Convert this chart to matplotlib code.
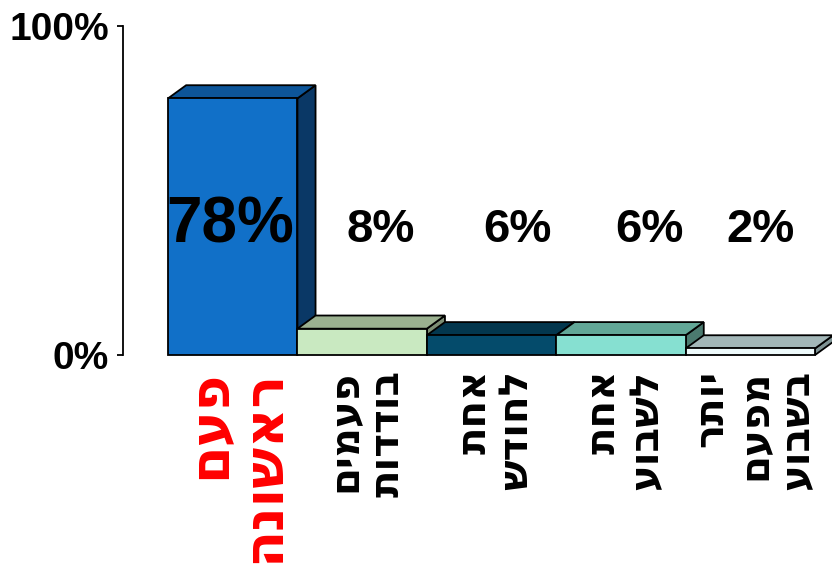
import numpy as np
import matplotlib
matplotlib.use("Agg")
import matplotlib.pyplot as plt
from matplotlib.patches import Polygon

plt.rcParams["font.family"] = ["Liberation Sans", "DejaVu Sans"]
plt.rcParams["font.weight"] = "bold"

# ---- data ----
CATEGORIES = ["פעם\nראשונה", "פעמים\nבודדות", "אחת\nלחודש", "אחת\nלשבוע",
              "יותר\nמפעם\nבשבוע"]
VALUES = [78, 8, 6, 6, 2]
VALUE_LABELS = ["78%", "8%", "6%", "6%", "2%"]
YTICKS = [0, 100]
YTICK_LABELS = ["0%", "100%"]

# ---- styles ----
FRONT = ["#1170c8", "#c9e9c1", "#044b6b", "#86e0d1", "#eefafb"]
TOP = ["#0d5599", "#9bb190", "#03374e", "#62a797", "#a3b7b8"]
SIDE = ["#0a3866", "#7c8e74", "#022c40", "#4b7a6f", "#7e9293"]
LABEL_COLORS = ["#ff0000", "black", "black", "black", "black"]
LABEL_SIZES = [39, 29, 29, 29, 29]
VAL_SIZES = [46, 34, 34, 34, 34]
VAL_DX = [-0.02, 0.14, 0.2, 0.22, 0.08]
VAL_Y = 34.3
DX, DY = 0.14, 4.0  # 3D depth in data units

fig = plt.figure(figsize=(8.32, 5.68), dpi=100)
ax = fig.add_axes([123 / 832, 213 / 568, 709 / 832, 329 / 568])
ax.set_xlim(-0.848, 4.631)
ax.set_ylim(0, 100)

x = np.arange(len(VALUES))
for i, v in enumerate(VALUES):
    l, r = x[i] - 0.5, x[i] + 0.5
    side = [(r, 0), (r + DX, DY), (r + DX, v + DY), (r, v)]
    top = [(l, v), (l + DX, v + DY), (r + DX, v + DY), (r, v)]
    front = [(l, 0), (l, v), (r, v), (r, 0)]
    for pts, col in ((side, SIDE[i]), (top, TOP[i]), (front, FRONT[i])):
        ax.add_patch(Polygon(pts, closed=True, facecolor=col, edgecolor="black",
                             lw=1.3, joinstyle="miter", clip_on=False))
    ax.text(x[i] + VAL_DX[i], VAL_Y, VALUE_LABELS[i], ha="center",
            va="baseline", fontsize=VAL_SIZES[i], fontweight="bold",
            color="black")
    # Hebrew: reverse each line for visual right-to-left order
    lab = "\n".join(s[::-1] for s in CATEGORIES[i].split("\n"))
    ax.text(x[i] + 0.03, -0.045, lab, transform=ax.get_xaxis_transform(),
            rotation=90, ha="center", va="top", multialignment="right",
            fontsize=LABEL_SIZES[i], fontweight="bold", family="DejaVu Sans",
            color=LABEL_COLORS[i], linespacing=1.08)

for s in ["top", "right", "bottom"]:
    ax.spines[s].set_visible(False)
ax.spines["left"].set_linewidth(1.3)
ax.set_xticks([])
ax.set_yticks(YTICKS)
ax.set_yticklabels(YTICK_LABELS, fontsize=28, fontweight="bold")
ax.tick_params(axis="y", length=4, width=1.3, pad=6)

fig.savefig("out.png", dpi=100)
